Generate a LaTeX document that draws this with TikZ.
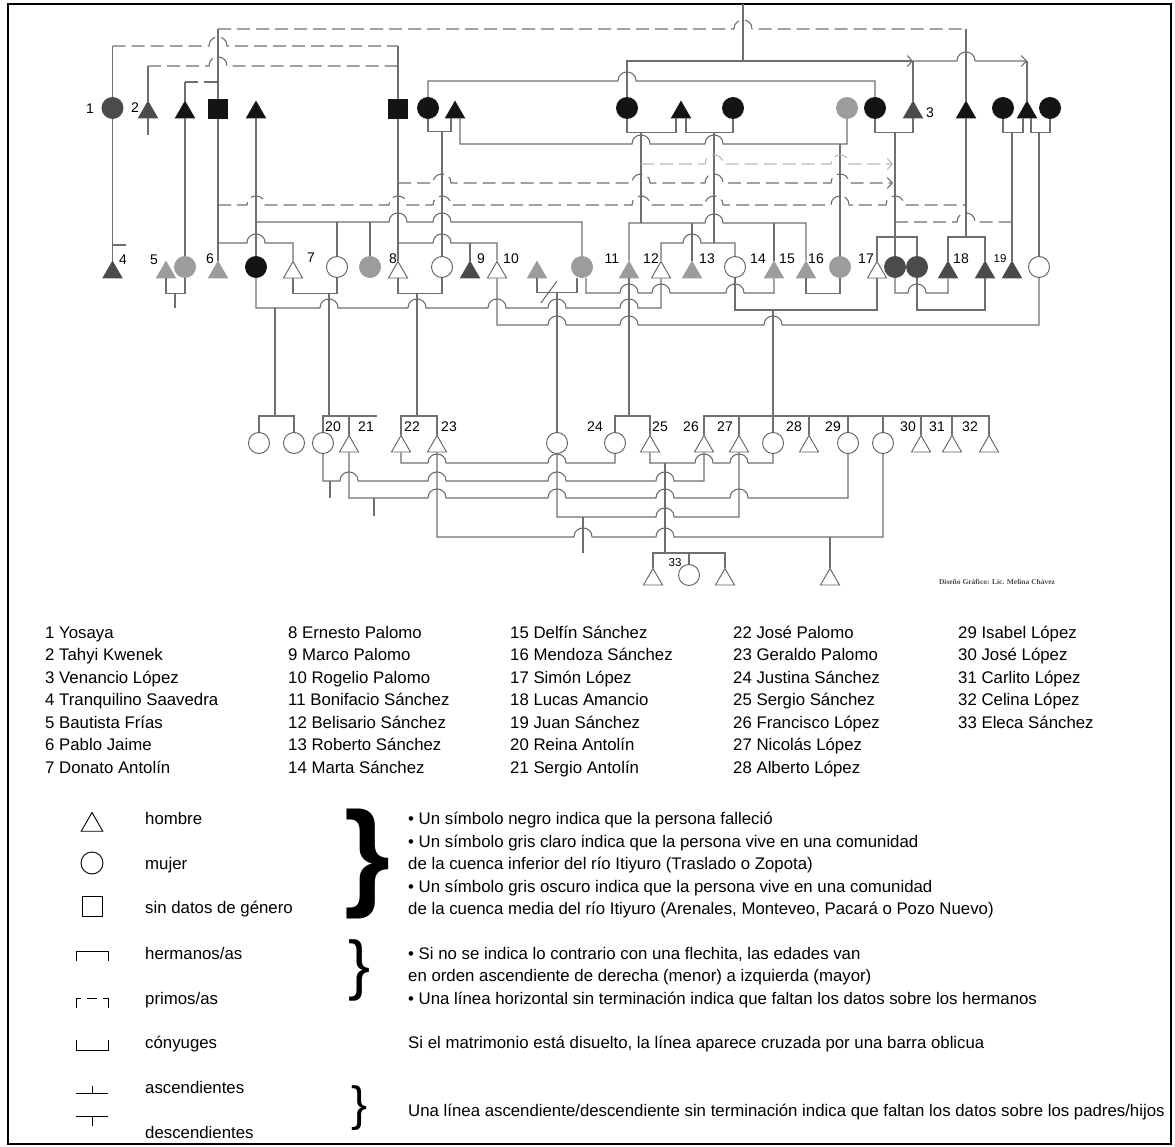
\documentclass[tikz,border=0pt]{standalone}
\usepackage{fontspec}
\setmainfont{Liberation Sans}
\newfontfamily\credfont{Liberation Serif}
\usepackage{xcolor}
\usetikzlibrary{arrows.meta,shapes.geometric}

\definecolor{blk}{HTML}{141414}
\definecolor{dkg}{HTML}{4B4B4B}
\definecolor{ltg}{HTML}{9C9C9C}
\definecolor{edg}{HTML}{5E5E5E}
\definecolor{lnc}{HTML}{6F6F6F}
\definecolor{lnl}{HTML}{B8B8B8}

% horizontal run that hops over the vertical lines at the given x
\newcommand\hops[2]{\foreach \h in {#2}{-- (\h-9,#1) .. controls (\h-9,#1-12) and (\h+9,#1-12) .. (\h+9,#1)}}

\begin{document}
\begin{tikzpicture}[x=1pt,y=-1pt,
  ln/.style={draw=lnc,line width=1.1pt},
  dsh/.style={ln,dash pattern=on 13pt off 6pt},
  ldsh/.style={dsh,draw=lnl},
  flecha/.style={-{Straight Barb[length=5pt,width=11pt]}},
  tri/.style={regular polygon,regular polygon sides=3,minimum size=22pt,inner sep=0pt,line width=0.9pt},
  fem/.style={circle,minimum size=21pt,inner sep=0pt,line width=0.9pt},
  unk/.style={rectangle,minimum size=19pt,inner sep=0pt},
  dead/.style={fill=blk,draw=blk}, dk/.style={fill=dkg,draw=dkg},
  lt/.style={fill=ltg,draw=ltg}, wh/.style={fill=white,draw=edg},
  num/.style={font=\fontsize{14}{14}\selectfont,inner sep=0pt},
  nm/.style={font=\fontsize{16.8}{20}\selectfont,inner sep=0pt,anchor=base west},
  key/.style={draw=black,fill=white,line width=0.9pt}]
\useasboundingbox (0,0) rectangle (1175,1147);
\draw[line width=2.5pt] (8,4) rectangle (1171,1144);

% generation I
\node[fem,dk] (p1) at (112.5,108) {};
\node[tri,dk] (p2) at (148,112.5) {};
\node[tri,dead] (tA) at (185,112.5) {};
\node[unk,dead] (sA) at (218,109) {};
\node[tri,dead] (tB) at (256,112.5) {};
\node[unk,dead] (sB) at (398,109) {};
\node[fem,dead] (cA) at (428,108) {};
\node[tri,dead] (tC) at (455,112.5) {};
\node[fem,dead] (cB) at (627,108) {};
\node[tri,dead] (tD) at (681,112.5) {};
\node[fem,dead] (cC) at (733,108) {};
\node[fem,lt] (cD) at (847,108) {};
\node[fem,dead] (cE) at (875,108) {};
\node[tri,dk] (p3) at (913,112.5) {};
\node[tri,dead] (tE) at (966,112.5) {};
\node[fem,dead] (cF) at (1003,108) {};
\node[tri,dead] (tF) at (1027,112.5) {};
\node[fem,dead] (cG) at (1050,108) {};

% generation II
\node[tri,dk] (p4) at (112.5,272.5) {};
\node[tri,lt] (p5) at (166,272.5) {};
\node[fem,lt] (cH) at (185,267) {};
\node[tri,lt] (p6) at (218,272.5) {};
\node[fem,dead] (cK) at (256,267) {};
\node[tri,wh] (p7) at (293,272.5) {};
\node[fem,wh] (cL) at (337,267) {};
\node[fem,lt] (cM) at (370,267) {};
\node[tri,wh] (p8) at (398,272.5) {};
\node[fem,wh] (cN) at (442,267) {};
\node[tri,dk] (p9) at (470,272.5) {};
\node[tri,wh] (p10) at (497,272.5) {};
\node[tri,lt] (tG) at (537,272.5) {};
\node[fem,lt] (cO) at (582,267) {};
\node[tri,lt] (p11) at (629,272.5) {};
\node[tri,wh] (p12) at (661,272.5) {};
\node[tri,lt] (p13) at (692,272.5) {};
\node[fem,wh] (p14) at (735,267) {};
\node[tri,lt] (p15) at (774,272.5) {};
\node[tri,lt] (p16) at (806,272.5) {};
\node[fem,lt] (cP) at (840,267) {};
\node[tri,wh] (p17) at (877,272.5) {};
\node[fem,dk] (cQ) at (895,267) {};
\node[fem,dk] (cR) at (917,267) {};
\node[tri,dk] (p18) at (948,272.5) {};
\node[tri,dk] (tH) at (985,272.5) {};
\node[tri,dk] (p19) at (1012,272.5) {};
\node[fem,wh] (cS) at (1039,267) {};

% generation III
\node[fem,wh] (cT) at (259,443) {};
\node[fem,wh] (cU) at (294,443) {};
\node[fem,wh] (p20) at (323,443) {};
\node[tri,wh] (p21) at (349,446.5) {};
\node[tri,wh] (p22) at (401,446.5) {};
\node[tri,wh] (p23) at (437,446.5) {};
\node[fem,wh] (cV) at (557,443) {};
\node[fem,wh] (p24) at (615,443) {};
\node[tri,wh] (p25) at (650,446.5) {};
\node[tri,wh] (p26) at (704,446.5) {};
\node[tri,wh] (p27) at (739,446.5) {};
\node[fem,wh] (cW) at (773,443) {};
\node[tri,wh] (p28) at (809,446.5) {};
\node[fem,wh] (p29) at (848,443) {};
\node[fem,wh] (cX) at (883,443) {};
\node[tri,wh] (p30) at (921,446.5) {};
\node[tri,wh] (p31) at (952,446.5) {};
\node[tri,wh] (p32) at (989,446.5) {};

% generation IV
\node[tri,wh] (tI) at (653,579.5) {};
\node[fem,wh] (p33) at (689,575) {};
\node[tri,wh] (tJ) at (725,579.5) {};
\node[tri,wh] (tK) at (830,579.5) {};

% numbers
\foreach \x/\y/\t in {90/109/1,135/108/2,930/113/3,123/260/4,154/260/5,210/259/6,311/258/7,
  393/259/8,481/259/9,511/259/10,612/259/11,651/259/12,707/259/13,758/259/14,787/259/15,
  816/259/16,866/259/17,961/259/18,333/427/20,366/427/21,412/427/22,449/427/23,595/427/24,
  660/427/25,691/427/26,725/427/27,794/427/28,833/427/29,908/427/30,937/427/31,970/427/32}
  \node[num] (n\t) at (\x,\y) {\t};
\node[num,font=\fontsize{11.5}{11.5}\selectfont] (n19) at (1000,259) {19};
\node[num,font=\fontsize{11.5}{11.5}\selectfont] (n33) at (675,563) {33};
\node[font=\credfont\bfseries\fontsize{7.5}{7.5}\selectfont,text=black!70] (cred) at (997,582) {Diseño Gráfico: Lic. Melina Chávez};

% cousins and top links
\coordinate (topin) at (743,4);
\draw[ln] (p1.north) -- (112.5,46);
\draw[dsh] (112.5,46) \hops{46}{218} -- (398,46);
\draw[ln] (398,46) -- (sB.north);
\draw[ln] (p2.north) -- (148,66);
\draw[dsh] (148,66) \hops{66}{218} -- (398,66);
\draw[ln] (p2.south) -- ++(0,17);
\draw[ln] (tA.north) -- (185,82);
\draw[dsh] (185,82) -- (218,82);
\draw[ln] (sA.north) -- (218,29);
\draw[dsh] (218,29) \hops{29}{743} -- (966,29);
\draw[ln] (966,29) -- (tE.north);
\draw[ln] (topin) -- (743,61);
\draw[ln,flecha] (cB.north) |- (913,61);
\draw[ln] (913,61) -- (p3.north);
\draw[ln,flecha] (913,61) \hops{61}{966} -- (1027,61);
\draw[ln] (1027,61) -- (tF.north);
\draw[ln] (cA.north) -- (428,81) \hops{81}{627} -- (875,81) -- (cE.north);

% couples of generation I
\draw[ln] (cA.south) -- ++(0,13) -| ([xshift=-4pt]tC.south);
\draw[ln] (442,131.5) -- (cN.north);
\draw[ln] ([xshift=5pt]tC.south) -- (460,144) \hops{144}{641,714} -- (847,144) -- (cD.south);
\draw[ln] (840,144) -- (cP.north);
\draw[ln] (cB.south) -- ++(0,14) -| ([xshift=-5pt]tD.south);
\draw[ln] (641,132.5) -- (641,223);
\draw[ln] ([xshift=5pt]tD.south) -- ++(0,14.5) -| (cC.south);
\draw[ln] (714,132.5) -- (714,243);
\draw[ln] (cE.south) -- ++(0,14) -| (p3.south);
\draw[ln] (895,132.5) -- (cQ.north);
\draw[ln] (cF.south) -- ++(0,14) -| ([xshift=-4pt]tF.south);
\draw[ln] (1012,132.5) -- (p19.north);
\draw[ln] ([xshift=4pt]tF.south) -- ++(0,14.5) -| (cG.south);
\draw[ln] (1039,132.5) -- (cS.north);

% dashed cousin lines in the middle
\draw[ldsh,flecha] (641,164) \hops{164}{714,840} -- (893,164);
\draw[dsh,flecha] (398,183) \hops{183}{442,641,714,840} -- (893,183);
\draw[dsh] (218,205) \hops{205}{256,398,442,641,714,840,895} -- (966,205);
\draw[dsh] (895,222) \hops{222}{966} -- (1012,222);

% siblings of generation II
\draw[ln] (p1.south) -- (p4.north);
\draw[ln] (112.5,245) -- (126,245);
\draw[ln] (tA.south) -- (cH.north);
\draw[ln] (tB.south) -- (cK.north);
\draw[ln] (256,222) \hops{222}{398,442} -- (582,222) -- (cO.north);
\draw[ln] (337,222) -- (cL.north);
\draw[ln] (370,222) -- (cM.north);
\draw[ln] (sA.south) -- (p6.north);
\draw[ln] (218,243) \hops{243}{256} -- (293,243) -- (p7.north);
\draw[ln] (sB.south) -- (p8.north);
\draw[ln] (398,243) \hops{243}{442} -- (497,243) -- (p10.north);
\draw[ln] (470,243) -- (p9.north);
\draw[ln] (p11.north) -- (629,223) \hops{223}{714} -- (806,223) -- (p16.north);
\draw[ln] (692,223) -- (p13.north);
\draw[ln] (774,223) -- (p15.north);
\draw[ln] (p12.north) -- (661,243) \hops{243}{692} -- (735,243) -- (p14.north);
\draw[ln] (p17.north) -- (877,237) -- (917,237) -- (cR.north);
\draw[ln] (p18.north) -- (948,237) -- (985,237) -- (tH.north);
\draw[ln] (tE.south) -- (966,237);

% couples of generation II
\draw[ln] (p5.south) -- ++(0,15) -| (cH.south);
\draw[ln] (175,293) -- (175,308);
\draw[ln] (p7.south) -- ++(0,15) -| (cL.south);
\draw[ln] (329,293) -- (329,416);
\draw[ln] (p8.south) -- ++(0,15) -| (cN.south);
\draw[ln] (417,293) -- (417,416);
\draw[ln] (tG.south) -- ++(0,14) -| ([xshift=-5pt]cO.south);
\draw[ln] (541,303) -- (557,281);
\draw[ln] (557,292) -- (cV.north);
\draw[ln] ([xshift=4pt]cO.south) -- (586,293) \hops{293}{629,661,735} -- (774,293) -- (p15.south);
\draw[ln] (p16.south) -- ++(0,15) -| (cP.south);
\draw[ln] (cQ.south) -- (895,293) \hops{293}{917} -- (948,293) -- (p18.south);
\draw[ln] (cK.south) -- (256,308) \hops{308}{329,417,497,557,629} -- (661,308) -- (p12.south);
\draw[ln] (275,308) -- (275,416);
\draw[ln] (p14.south) -- (735,310) -- (877,310) -- (p17.south);
\draw[ln] (773,310) -- (cW.north);
\draw[ln] (cR.south) -- (917,310) -- (985,310) -- (tH.south);
\draw[ln] (p10.south) -- (497,325) \hops{325}{557,629,773} -- (1039,325) -- (cS.south);
\draw[ln] (p11.south) -- (629,416);

% siblings of generation III
\draw[ln] (cT.north) -- (259,416) -- (294,416) -- (cU.north);
\draw[ln] (p20.north) -- (323,416) -- (377,416);
\draw[ln] (349,416) -- (p21.north);
\draw[ln] (p22.north) -- (401,416) -- (437,416) -- (p23.north);
\draw[ln] (p24.north) -- (615,416) -- (650,416) -- (p25.north);
\draw[ln] (p26.north) -- (704,416) -- (989,416) -- (p32.north);
\foreach \n/\x in {p27/739,p28/809,p29/848,cX/883,p30/921,p31/952}
  \draw[ln] (\x,416) -- (\n.north);

% couples of generation III
\draw[ln] (p22.south) -- (401,463) \hops{463}{437,557} -- (615,463) -- (p24.south);
\draw[ln] (p25.south) -- (650,463) \hops{463}{704,739} -- (773,463) -- (cW.south);
\draw[ln] (665,463) -- (665,553);
\draw[ln] (p20.south) -- (323,481) \hops{481}{349,437,557,665} -- (704,481) -- (p26.south);
\draw[ln] (330,481) -- (330,498);
\draw[ln] (p21.south) -- (349,498) \hops{498}{437,557,665,739} -- (848,498) -- (p29.south);
\draw[ln] (374,498) -- (374,516);
\draw[ln] (cV.south) -- (557,517) \hops{517}{665} -- (739,517) -- (p27.south);
\draw[ln] (583,517) -- (583,553);
\draw[ln] (p23.south) -- (437,537) \hops{537}{583,665} -- (883,537) -- (cX.south);
\draw[ln] (830,537) -- (tK.north);
\draw[ln] (tI.north) -- (653,553) -- (725,553) -- (tJ.north);
\draw[ln] (689,553) -- (p33.north);

% list of names
\foreach \t [count=\i] in {1 Yosaya,2 Tahyi Kwenek,3 Venancio López,4 Tranquilino Saavedra,5 Bautista Frías,6 Pablo Jaime,7 Donato Antolín}
  \node[nm] (a\i) at (45,615.5+22.5*\i) {\t};
\foreach \t [count=\i] in {8 Ernesto Palomo,9 Marco Palomo,10 Rogelio Palomo,11 Bonifacio Sánchez,12 Belisario Sánchez,13 Roberto Sánchez,14 Marta Sánchez}
  \node[nm] (b\i) at (288,615.5+22.5*\i) {\t};
\foreach \t [count=\i] in {15 Delfín Sánchez,16 Mendoza Sánchez,17 Simón López,18 Lucas Amancio,19 Juan Sánchez,20 Reina Antolín,21 Sergio Antolín}
  \node[nm] (c\i) at (510,615.5+22.5*\i) {\t};
\foreach \t [count=\i] in {22 José Palomo,23 Geraldo Palomo,24 Justina Sánchez,25 Sergio Sánchez,26 Francisco López,27 Nicolás López,28 Alberto López}
  \node[nm] (d\i) at (733,615.5+22.5*\i) {\t};
\foreach \t [count=\i] in {29 Isabel López,30 José López,31 Carlito López,32 Celina López,33 Eleca Sánchez}
  \node[nm] (e\i) at (958,615.5+22.5*\i) {\t};

% key
\node[tri,key,minimum size=25pt] (kh) at (92,825) {};
\node[fem,key,minimum size=22pt] (km) at (92,863) {};
\node[unk,key,minimum size=20pt] (ks) at (92,906) {};
\draw[line width=0.9pt] (76,961) |- (108,951) -- (108,961);
\draw[line width=0.9pt] (76,1008) |- (81,998) (87,998) -- (97,998) (103,998) -| (108,1008);
\draw[line width=0.9pt] (76,1040) |- (108,1050) -- (108,1040);
\draw[line width=0.9pt] (76,1093) -- (108,1093) (92,1093) -- (92,1086);
\draw[line width=0.9pt] (76,1116) -- (108,1116) (92,1116) -- (92,1126);
\foreach \y/\t [count=\k] in {818/hombre,863/mujer,907/{sin datos de género},953/{hermanos/as},998/{primos/as},1042/cónyuges,1087/ascendientes,1132/descendientes}
  \node[nm] (k\k) at (145,\y+6) {\t};
\node[font=\fontsize{118}{118}\selectfont\bfseries] (br1) at (367,864) {\}};
\node[font=\fontsize{66}{66}\selectfont] (br2) at (360,970) {\}};
\node[font=\fontsize{48}{48}\selectfont] (br3) at (360,1108) {\}};
\foreach \y/\t [count=\k] in {818/{• Un símbolo negro indica que la persona falleció},
  841/{• Un símbolo gris claro indica que la persona vive en una comunidad},
  863/{de la cuenca inferior del río Itiyuro (Traslado o Zopota)},
  886/{• Un símbolo gris oscuro indica que la persona vive en una comunidad},
  908/{de la cuenca media del río Itiyuro (Arenales, Monteveo, Pacará o Pozo Nuevo)},
  953/{• Si no se indica lo contrario con una flechita, las edades van},
  975/{en orden ascendiente de derecha (menor) a izquierda (mayor)},
  998/{• Una línea horizontal sin terminación indica que faltan los datos sobre los hermanos},
  1042/{Si el matrimonio está disuelto, la línea aparece cruzada por una barra oblicua},
  1110/{Una línea ascendiente/descendiente sin terminación indica que faltan los datos sobre los padres/hijos}}
  \node[nm] (r\k) at (408,\y+6) {\t};
\end{tikzpicture}
\end{document}
